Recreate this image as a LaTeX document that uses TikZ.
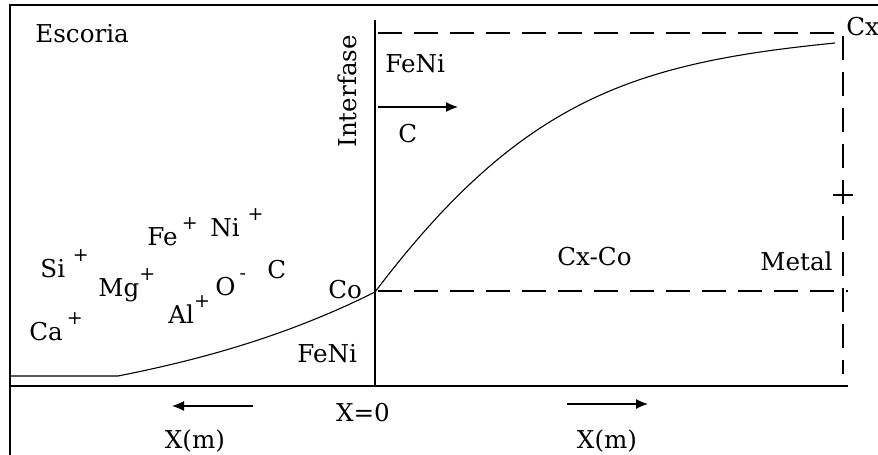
\documentclass[tikz,border=0pt]{standalone}
\usepackage{fontspec}
\setmainfont{DejaVu Serif}
\usetikzlibrary{arrows.meta}
\newcommand{\chg}[1]{\raisebox{0.62em}{\fontsize{9.5}{10}\selectfont #1}}

\begin{document}
\begin{tikzpicture}[x=0.5pt,y=-0.5pt,
    every node/.style={font=\fontsize{12.3}{14}\selectfont,inner sep=0pt},
    lbl/.style={anchor=base west},
    frame/.style={line width=1pt},
    profile/.style={line width=0.55pt},
    guide/.style={line width=0.7pt,dash pattern=on 12pt off 6pt},
    flux/.style={-{Latex[length=6pt,width=5pt]},line width=0.6pt}]
  \useasboundingbox (0,0) rectangle (878,455);

  % frame, interface and x axis
  \coordinate (tl) at (10,5);
  \coordinate (tr) at (878,5);
  \coordinate (bl) at (10,455);
  \coordinate (ifTop) at (375,20);
  \coordinate (ifBot) at (375,386);
  \coordinate (axL) at (10,386);
  \coordinate (axR) at (848,386);
  \draw[frame] (bl) -- (tl) -- (tr);
  \draw[line width=0.8pt] (ifTop) -- (ifBot);
  \draw[line width=0.8pt] (axL) -- (axR);

  % concentration profile
  \coordinate (slagL) at (10,376);
  \coordinate (slagK) at (118,376);
  \coordinate (co0) at (375,292);
  \coordinate (cxEnd) at (835,43);
  \draw[profile] (slagL) -- (slagK)
    .. controls (204,359) and (289,335) .. (co0)
    .. controls (522,98) and (635,63) .. (cxEnd);

  % guide lines Cx / Co
  \coordinate (cxL) at (378,33);
  \coordinate (cxR) at (843,33);
  \coordinate (cxB) at (843,374);
  \coordinate (coL) at (378,291);
  \coordinate (coR) at (848,291);
  \coordinate (tick) at (843,195);
  \draw[guide] (cxL) -- (cxR) -- (cxB);
  \draw[guide] (coL) -- (coR);
  \draw[line width=0.7pt] ([xshift=-5]tick) -- ([xshift=5]tick);

  % slag side
  \node[lbl] (escoria) at (35,42) {Escoria};
  \node[lbl] (fe) at (147,245) {Fe\,\chg{+}};
  \node[lbl] (ni) at (210,236) {Ni \chg{+}};
  \node[lbl] (si) at (40,277) {Si \chg{+}};
  \node[lbl] (mg) at (98,296) {Mg\chg{+}};
  \node[lbl] (ca) at (29,340) {Ca\,\chg{+}};
  \node[lbl] (al) at (168,323) {Al\chg{+}};
  \node[lbl] (ox) at (215,295) {O\,\chg{-}};
  \node[lbl] (cSlag) at (267,278) {C};
  \node[lbl] (co) at (328,298) {Co};
  \node[lbl] (feniBot) at (297,362) {FeNi};

  % interface and metal side
  \node[lbl,rotate=90] (interfase) at (356,148) {Interfase};
  \node[lbl] (feniTop) at (385,72) {FeNi};
  \node[lbl] (cMetal) at (398,142) {C};
  \node[lbl] (cx) at (846,35) {Cx};
  \node[lbl] (cxco) at (557,265) {Cx-Co};
  \node[lbl] (metal) at (760,270) {Metal};

  % x axis labels
  \node[anchor=base] (x0) at (363,421) {X=0};
  \node[anchor=base] (xmL) at (195,448) {X(m)};
  \node[anchor=base] (xmR) at (607,448) {X(m)};

  % transport arrows
  \coordinate (fluxA) at (378,107);
  \coordinate (fluxB) at (458,107);
  \coordinate (leftA) at (253,406);
  \coordinate (leftB) at (172,406);
  \coordinate (rightA) at (567,404);
  \coordinate (rightB) at (648,404);
  \draw[flux] (fluxA) -- (fluxB);
  \draw[flux] (leftA) -- (leftB);
  \draw[flux] (rightA) -- (rightB);
\end{tikzpicture}
\end{document}
